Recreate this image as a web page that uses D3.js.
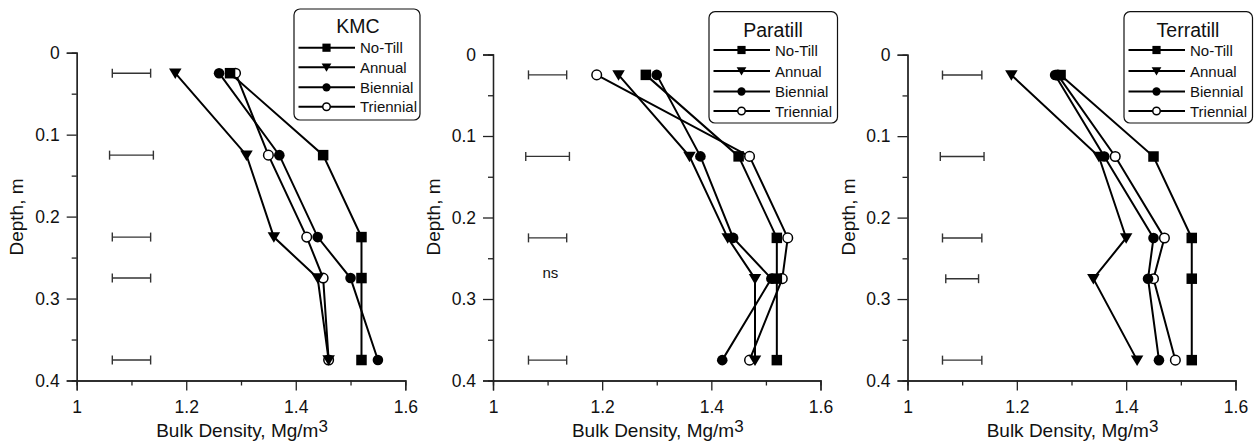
<!DOCTYPE html>
<html>
<head>
<meta charset="utf-8">
<script src="https://cdn.jsdelivr.net/npm/d3@7"></script>
<style>
  html, body { margin: 0; padding: 0; background: #fff; }
  svg { display: block; font-family: "Liberation Sans", Arial, sans-serif; }
</style>
</head>
<body>
<svg id="chart" width="1256" height="444"></svg>
<script>
// ---------------- DATA ----------------
const depths = [0.025, 0.125, 0.225, 0.275, 0.375];
const seriesNames = ["No-Till", "Annual", "Biennial", "Triennial"];
const panelTitles = ["KMC", "Paratill", "Terratill"];

const kmcNoTill    = [1.28, 1.45, 1.52, 1.52, 1.52];
const kmcAnnual    = [1.18, 1.31, 1.36, 1.44, 1.46];
const kmcBiennial  = [1.26, 1.37, 1.44, 1.50, 1.55];
const kmcTriennial = [1.29, 1.35, 1.42, 1.45, 1.46];

const paraNoTill    = [1.28, 1.45, 1.52, 1.52, 1.52];
const paraAnnual    = [1.23, 1.36, 1.43, 1.48, 1.48];
const paraBiennial  = [1.30, 1.38, 1.44, 1.51, 1.42];
const paraTriennial = [1.19, 1.47, 1.54, 1.53, 1.47];

const terraNoTill    = [1.28, 1.45, 1.52, 1.52, 1.52];
const terraAnnual    = [1.19, 1.35, 1.40, 1.34, 1.42];
const terraBiennial  = [1.27, 1.36, 1.45, 1.44, 1.46];
const terraTriennial = [1.275, 1.38, 1.47, 1.45, 1.49];

// LSD bars: centre and half-width (null = not significant)
const lsdCenter = 1.1;
const kmcLsd   = [0.035, 0.04, 0.035, 0.035, 0.035];
const paraLsd  = [0.035, 0.04, 0.035, null, 0.035];
const terraLsd = [0.036, 0.04, 0.036, 0.03, 0.036];
const nsNote = { panel: 1, x: 1.105, depth: 0.268, text: "ns" };

const xMajorTicks = [1, 1.2, 1.4, 1.6];
const xMinorTicks = [1.1, 1.3, 1.5];
const yMajorTicks = [0, 0.1, 0.2, 0.3, 0.4];
const yMinorTicks = [0.05, 0.15, 0.25, 0.35];
const xDomain = [1, 1.6];
const yDomain = [0, 0.4];

const panelsData = [
  { title: panelTitles[0], series: [kmcNoTill, kmcAnnual, kmcBiennial, kmcTriennial], lsd: kmcLsd },
  { title: panelTitles[1], series: [paraNoTill, paraAnnual, paraBiennial, paraTriennial], lsd: paraLsd },
  { title: panelTitles[2], series: [terraNoTill, terraAnnual, terraBiennial, terraTriennial], lsd: terraLsd }
];

// ---------------- LAYOUT ----------------
const layouts = [
  { x0: 76.7, x1: 405.3, y0: 52.7, y1: 380.5, ylabX: 23, leg: { x: 294, y: 9, w: 126, h: 111, rowY: [47.7, 67.3, 87.3, 106.7], titleY: 25.7 } },
  { x0: 493,  x1: 820.5, y0: 54.5, y1: 380.5, ylabX: 440, leg: { x: 709, y: 11.7, w: 128.5, h: 111.3, rowY: [50, 71, 91.5, 111], titleY: 30 } },
  { x0: 907.5, x1: 1235.5, y0: 54.7, y1: 380.5, ylabX: 855, leg: { x: 1124, y: 11.7, w: 128.5, h: 111.3, rowY: [50, 71, 91.5, 111], titleY: 30 } }
];

const svg = d3.select("#chart");
const ink = "#000";
const axisInk = "#222";

function drawMarker(g, type, x, y, s) {
  if (type === 0) {
    const a = 10.5 * s;
    g.append("rect").attr("x", x - a / 2).attr("y", y - a / 2).attr("width", a).attr("height", a).attr("fill", ink);
  } else if (type === 1) {
    const w = 12.5 * s, h = 10.5 * s;
    g.append("path").attr("d", `M${x - w / 2},${y - h * 0.45}L${x + w / 2},${y - h * 0.45}L${x},${y + h * 0.55}Z`).attr("fill", ink);
  } else if (type === 2) {
    g.append("circle").attr("cx", x).attr("cy", y).attr("r", 5.3 * s).attr("fill", ink);
  } else {
    g.append("circle").attr("cx", x).attr("cy", y).attr("r", 4.8 * s).attr("fill", "#fff").attr("stroke", ink).attr("stroke-width", 1.5);
  }
}

panelsData.forEach((pd, pi) => {
  const L = layouts[pi];
  const x = d3.scaleLinear().domain(xDomain).range([L.x0, L.x1]);
  const y = d3.scaleLinear().domain(yDomain).range([L.y0, L.y1]);
  const g = svg.append("g");

  const fmt = d => String(d);
  const xMajor = d3.axisBottom(x).tickValues(xMajorTicks).tickSize(10).tickPadding(9.8).tickFormat(fmt);
  const xMinor = d3.axisBottom(x).tickValues(xMinorTicks).tickSize(5).tickFormat("");
  const yMajor = d3.axisLeft(y).tickValues(yMajorTicks).tickSize(10).tickPadding(7).tickFormat(fmt);
  const yMinor = d3.axisLeft(y).tickValues(yMinorTicks).tickSize(5).tickFormat("");

  [
    g.append("g").attr("transform", `translate(0,${L.y1})`).call(xMinor),
    g.append("g").attr("transform", `translate(0,${L.y1})`).call(xMajor),
    g.append("g").attr("transform", `translate(${L.x0},0)`).call(yMinor),
    g.append("g").attr("transform", `translate(${L.x0},0)`).call(yMajor)
  ].forEach(ax => {
    ax.select(".domain").attr("stroke", axisInk).attr("stroke-width", 1.3);
    ax.selectAll(".tick line").attr("stroke", axisInk).attr("stroke-width", 1.3);
    ax.selectAll(".tick text").attr("fill", "#111").style("font-size", "17.5px").style("font-family", "'Liberation Sans', Arial, sans-serif");
  });

  // axis titles
  const xt = g.append("text")
    .attr("x", (L.x0 + L.x1) / 2 + 1).attr("y", 437)
    .attr("text-anchor", "middle").style("font-size", "19px").attr("fill", "#111");
  xt.append("tspan").text("Bulk Density, Mg/m");
  xt.append("tspan").attr("dy", -5).style("font-size", "17px").text("3");

  g.append("text")
    .attr("transform", `translate(${L.ylabX},217) rotate(-90)`)
    .attr("text-anchor", "middle").style("font-size", "19px").attr("fill", "#111")
    .text("Depth, m");

  // LSD bars
  const eb = g.append("g").attr("stroke", "#333").attr("stroke-width", 1.4);
  pd.lsd.forEach((hw, i) => {
    if (hw == null) return;
    const yy = y(depths[i]);
    const xa = x(lsdCenter - hw), xb = x(lsdCenter + hw);
    eb.append("line").attr("x1", xa).attr("x2", xb).attr("y1", yy).attr("y2", yy);
    eb.append("line").attr("x1", xa).attr("x2", xa).attr("y1", yy - 4.5).attr("y2", yy + 4.5);
    eb.append("line").attr("x1", xb).attr("x2", xb).attr("y1", yy - 4.5).attr("y2", yy + 4.5);
  });
  if (nsNote.panel === pi) {
    g.append("text").attr("x", x(nsNote.x)).attr("y", y(nsNote.depth))
      .attr("text-anchor", "middle").attr("dominant-baseline", "central")
      .style("font-size", "15px").attr("fill", "#111").text(nsNote.text);
  }

  // series (drawn in reverse so No-Till ends on top)
  const line = d3.line().x(d => x(d[0])).y(d => y(d[1]));
  for (let si = pd.series.length - 1; si >= 0; si--) {
    const pts = pd.series[si].map((v, i) => [v, depths[i]]);
    g.append("path").attr("d", line(pts)).attr("fill", "none").attr("stroke", ink).attr("stroke-width", 2);
    const mg = g.append("g");
    pts.forEach(p => drawMarker(mg, si, x(p[0]), y(p[1]), 1));
  }

  // legend
  const lg = L.leg;
  const leg = g.append("g");
  leg.append("rect").attr("x", lg.x).attr("y", lg.y).attr("width", lg.w).attr("height", lg.h)
    .attr("rx", 6).attr("ry", 6).attr("fill", "#fff").attr("stroke", "#111").attr("stroke-width", 1.2);
  leg.append("text").attr("x", lg.x + 64).attr("y", lg.titleY).attr("text-anchor", "middle")
    .attr("dominant-baseline", "central").style("font-size", "19.5px").attr("fill", "#111").text(pd.title);
  seriesNames.forEach((nm, si) => {
    const ry = lg.rowY[si];
    leg.append("line").attr("x1", lg.x + 4.5).attr("x2", lg.x + 61).attr("y1", ry).attr("y2", ry)
      .attr("stroke", ink).attr("stroke-width", 2);
    drawMarker(leg, si, lg.x + 32.5, ry, 0.78);
    leg.append("text").attr("x", lg.x + 66).attr("y", ry).attr("dominant-baseline", "central")
      .style("font-size", "15px").attr("fill", "#111").text(nm);
  });
});
</script>
</body>
</html>
